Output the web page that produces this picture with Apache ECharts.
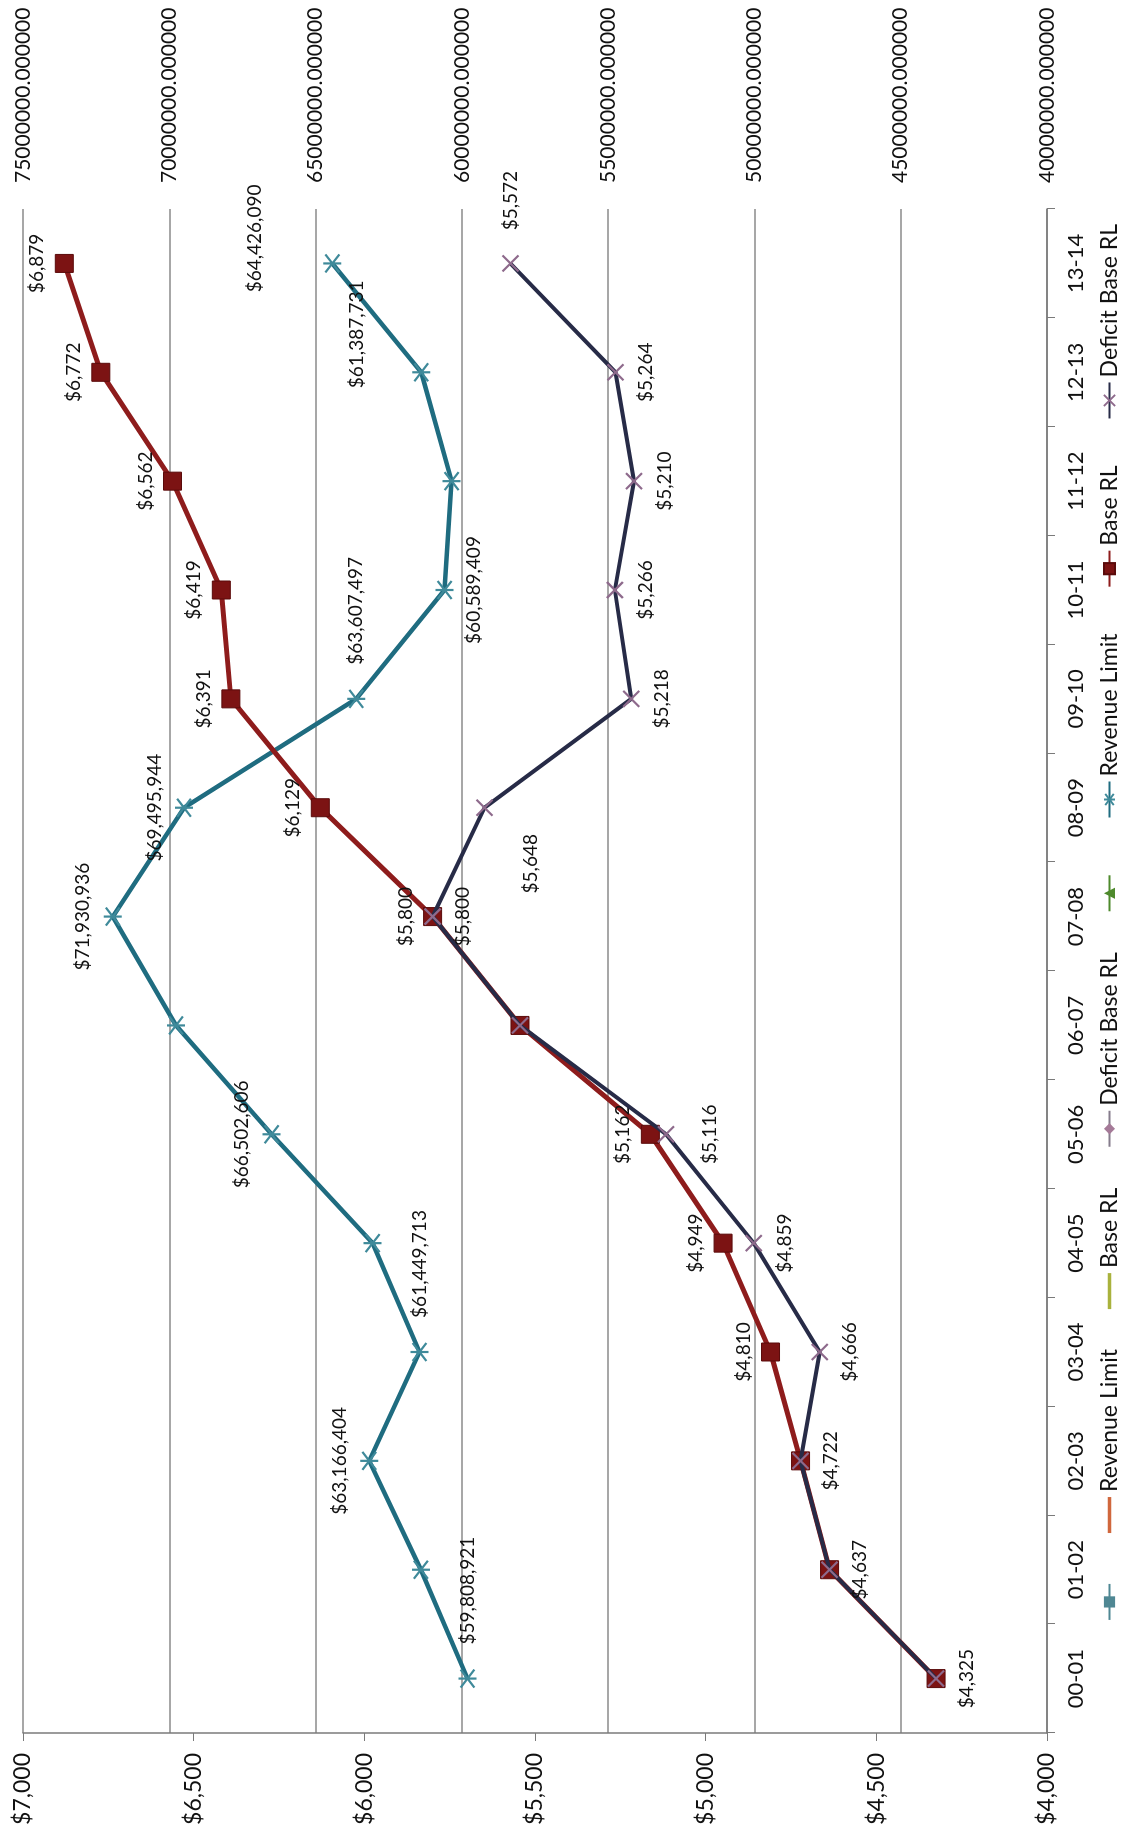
<!DOCTYPE html>
<html>
<head>
<meta charset="utf-8">
<script src="https://cdn.jsdelivr.net/npm/echarts@6/dist/echarts.min.js"></script>
<style>
  html, body { margin: 0; padding: 0; background: #fff; overflow: hidden; width: 1126px; height: 1839px; }
  /* the chart is laid out landscape and turned a quarter turn counter-clockwise */
  #chart {
    position: absolute; left: 0; top: 0;
    width: 1839px; height: 1126px;
    transform-origin: 0 0;
    transform: translate(0px, 1839px) rotate(-90deg);
  }
</style>
</head>
<body>
<div id="chart"></div>
<script>
// School years
const categories = ['00-01', '01-02', '02-03', '03-04', '04-05', '05-06', '06-07',
                    '07-08', '08-09', '09-10', '10-11', '11-12', '12-13', '13-14'];

// Total revenue limit (right axis, dollars)
const revenueLimit = [59808921, 61400000, 63166404, 61449713, 63050000, 66502606, 69770000,
                      71930936, 69495944, 63607497, 60589409, 60350000, 61387731, 64426090];

// Base revenue limit per ADA (left axis, dollars)
const baseRL = [4325, 4637, 4722, 4810, 4949, 5162, 5544,
                5800, 6129, 6391, 6419, 6562, 6772, 6879];

// Base revenue limit after deficit factor (left axis, dollars)
const deficitBaseRL = [4325, 4637, 4722, 4666, 4859, 5116, 5544,
                       5800, 5648, 5218, 5266, 5210, 5264, 5572];

// Axis ranges
const dollarAxis = { min: 4000, max: 7000, interval: 500 };
const limitAxis = { min: 40000000, max: 75000000, interval: 5000000 };

// Where each point's value label sits: [position, distance, dx, dy]; null = no label
const revenueLabelAt = [
  ['right', 24], null, ['top', 10], ['right', 24], null, ['top', 10], null,
  ['top', 10], ['top', 10], ['right', 24], ['bottom', 10], null, ['top', 45, 38, 0], ['top', 58, 25, 0]
];
const baseLabelAt = [
  ['bottom', 12], null, null, ['top', 8], ['top', 8], ['top', 8], null,
  ['top', 8], ['top', 8], ['top', 8], ['top', 8], ['top', 8], ['top', 8], ['top', 8]
];
const deficitLabelAt = [
  null, ['bottom', 12], ['bottom', 12], ['bottom', 12], ['bottom', 12], ['bottom', 25], null,
  ['bottom', 12], ['bottom', 28, -56, 0], ['bottom', 12], ['bottom', 12], ['bottom', 12], ['bottom', 12], ['right', 24]
];

const FONT = 'Lato';

function withCommas(n) {
  return String(Math.round(n)).replace(/\B(?=(\d{3})+(?!\d))/g, ',');
}
function money(v) { return '$' + withCommas(v); }

function labelled(values, places) {
  return values.map(function (v, i) {
    const p = places[i];
    if (!p) return { value: v, label: { show: false } };
    return {
      value: v,
      label: { show: true, position: p[0], distance: p[1], offset: [p[2] || 0, p[3] || 0] }
    };
  });
}

const dataLabel = {
  show: true,
  formatter: function (p) { return money(p.value); },
  fontFamily: FONT, fontSize: 19, color: '#111'
};

const STAR = 'path://M0,0L10,10M10,0L0,10M5,-1.5L5,11.5';
const CROSS = 'path://M0,0L10,10M10,0L0,10';
const PLAIN_LINE = 'path://M0,0L40,0L40,4L0,4Z';

const chart = echarts.init(document.getElementById('chart'), null, { renderer: 'canvas' });

chart.setOption({
  backgroundColor: '#ffffff',
  animation: false,
  textStyle: { fontFamily: FONT, color: '#111' },
  grid: { left: 106, right: 209, top: 23, bottom: 79, outerBoundsMode: 'none' },
  legend: {
    bottom: 0,
    left: 'center',
    itemWidth: 36,
    itemHeight: 14,
    itemGap: 40,
    textStyle: { fontFamily: FONT, fontSize: 23, color: '#111' },
    data: [
      ' ',
      { name: 'Revenue Limit', icon: PLAIN_LINE },
      { name: 'Base RL', icon: PLAIN_LINE },
      'Deficit Base RL',
      '  ',
      'Revenue Limit ',
      'Base RL ',
      'Deficit Base RL '
    ]
  },
  xAxis: {
    type: 'category',
    data: categories,
    boundaryGap: true,
    axisLine: { show: true, lineStyle: { color: '#7a7a7a', width: 1.5 } },
    axisTick: { show: true, length: 8, lineStyle: { color: '#7a7a7a' } },
    axisLabel: { fontFamily: FONT, fontSize: 22, color: '#111', margin: 18 },
    splitLine: { show: false }
  },
  yAxis: [
    {
      type: 'value',
      position: 'left',
      min: dollarAxis.min, max: dollarAxis.max, interval: dollarAxis.interval,
      axisLine: { show: true, lineStyle: { color: '#7a7a7a', width: 1.5 } },
      axisTick: { show: true, length: 8, lineStyle: { color: '#7a7a7a' } },
      axisLabel: {
        fontFamily: FONT, fontSize: 23, color: '#111', margin: 20,
        formatter: function (v) { return money(v); }
      },
      splitLine: { show: false }
    },
    {
      type: 'value',
      position: 'right',
      min: limitAxis.min, max: limitAxis.max, interval: limitAxis.interval,
      axisLine: { show: false },
      axisTick: { show: false },
      axisLabel: {
        fontFamily: FONT, fontSize: 21, color: '#111', margin: 26,
        formatter: function (v) { return v.toFixed(6); }
      },
      splitLine: { show: true, lineStyle: { color: '#8a8a8a', width: 1.5 } }
    }
  ],
  series: [
    // legend-only entries
    { name: ' ', type: 'line', data: [], symbol: 'rect', symbolSize: [4, 10],
      lineStyle: { color: '#4f8793', width: 3 }, itemStyle: { color: '#4f8793' } },
    { name: 'Revenue Limit', type: 'line', data: [], symbol: 'none',
      lineStyle: { color: '#d0673d', width: 3 }, itemStyle: { color: '#d0673d' } },
    { name: 'Base RL', type: 'line', data: [], symbol: 'none',
      lineStyle: { color: '#a9b23d', width: 3 }, itemStyle: { color: '#a9b23d' } },
    { name: 'Deficit Base RL', type: 'line', data: [], symbol: 'diamond', symbolSize: 9,
      lineStyle: { color: '#857c8c', width: 3 }, itemStyle: { color: '#a57a98' } },
    { name: '  ', type: 'line', data: [], symbol: 'triangle', symbolSize: 10,
      lineStyle: { color: '#4e8a2c', width: 3 }, itemStyle: { color: '#4e8a2c' } },

    // Revenue Limit on the right axis
    {
      name: 'Revenue Limit ', type: 'line', yAxisIndex: 1,
      data: labelled(revenueLimit, revenueLabelAt),
      symbol: STAR, symbolSize: 18,
      lineStyle: { color: '#1f6c80', width: 4.5 },
      itemStyle: { color: '#1f6c80', borderColor: '#3f8a9a', borderWidth: 2.2 },
      label: dataLabel,
      z: 3
    },
    // Base RL on the left axis
    {
      name: 'Base RL ', type: 'line', yAxisIndex: 0,
      data: labelled(baseRL, baseLabelAt),
      symbol: 'rect', symbolSize: 18,
      lineStyle: { color: '#8e1c1c', width: 5 },
      itemStyle: { color: '#7c1313', borderColor: '#5a0b0b', borderWidth: 1 },
      label: dataLabel,
      z: 4
    },
    // Deficit Base RL on the left axis
    {
      name: 'Deficit Base RL ', type: 'line', yAxisIndex: 0,
      data: labelled(deficitBaseRL, deficitLabelAt),
      symbol: CROSS, symbolSize: 16,
      lineStyle: { color: '#272b47', width: 4 },
      itemStyle: { color: '#272b47', borderColor: '#8e6a8c', borderWidth: 2.2 },
      label: dataLabel,
      z: 5
    }
  ]
});
</script>
</body>
</html>
